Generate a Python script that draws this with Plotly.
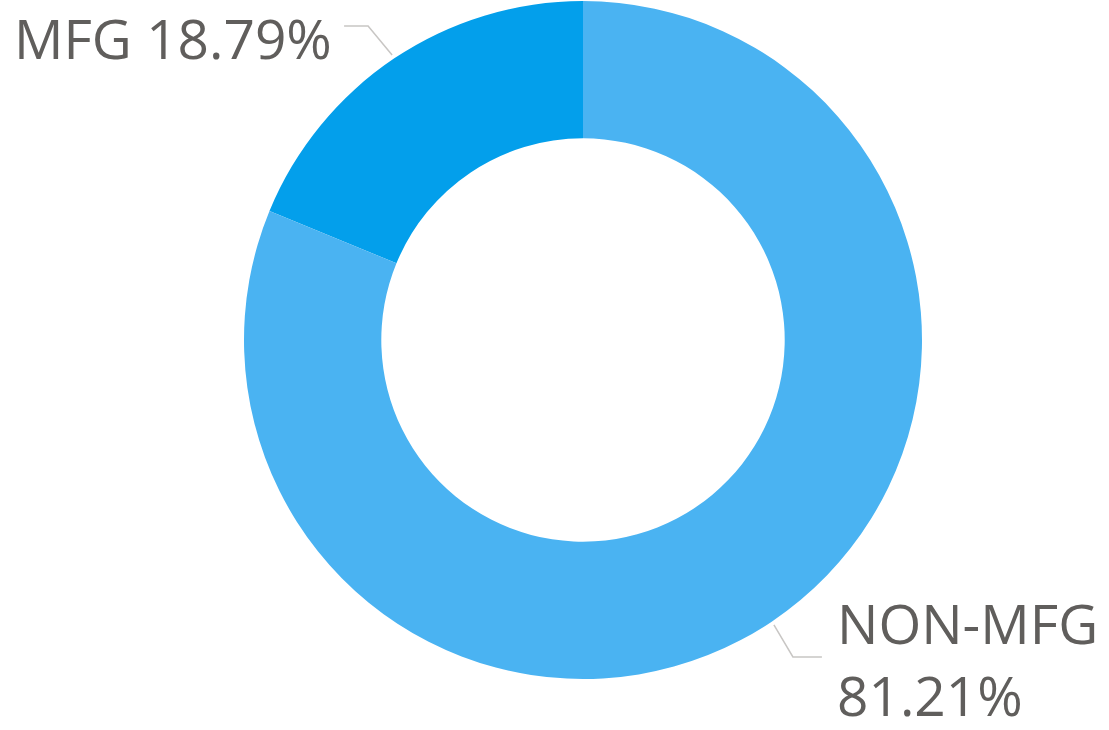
import math
import plotly.graph_objects as go

# ---- data ----
labels = ["MFG", "NON-MFG"]
values = [18.79, 81.21]
colors = ["#039FEB", "#4AB3F2"]

W, H = 1109, 730
CX, CY, R = 583, 340, 339          # pie centre / radius in pixels
HOLE = 0.595
TEXT_COLOR = "#605E5C"
LINE_COLOR = "#C8C6C4"
FONT = "Open Sans, Segoe UI, sans-serif"
FS = 55

total = sum(values)
first_share = values[0] / total * 360  # MFG ends at 12 o'clock, drawn clockwise


def px(x, y):
    return x / W, 1 - y / H


fig = go.Figure(go.Pie(
    labels=labels, values=values,
    marker=dict(colors=colors, line=dict(width=0)),
    hole=HOLE, sort=False, direction="clockwise", rotation=-first_share,
    textinfo="none", hoverinfo="label+percent", showlegend=False,
    domain=dict(x=[(CX - R) / W, (CX + R) / W],
                y=[max(0, 1 - (CY + R) / H), min(1, 1 - (CY - R) / H)]),
))

# leader lines & labels, anchored at slice mid-angles (counterclockwise from 12 o'clock)
cum = 0
shapes, annos = [], []
for i, (lab, v) in enumerate(zip(labels, values)):
    mid = (cum + v / 2) / total * 2 * math.pi
    cum += v
    ax_ = CX - (R + 4) * math.sin(mid)
    ay_ = CY - (R + 4) * math.cos(mid)
    pct = f"{v / total * 100:.2f}%"
    if i == 0:
        p1 = (ax_ - 24, ay_ - 29)
        p2 = (p1[0] - 24, p1[1])
        pts = [(ax_, ay_), p1, p2]
        annos.append(dict(x=px(p2[0] - 10, 0)[0], y=px(0, p2[1] + 11)[1], text=f"{lab} {pct}",
                          xanchor="right", yanchor="middle", align="right"))
    else:
        p1 = (ax_ + 19, ay_ + 32)
        p2 = (p1[0] + 29, p1[1])
        pts = [(ax_, ay_), p1, p2]
        annos.append(dict(x=px(p2[0] + 13, 0)[0], y=px(0, p2[1] + 2)[1], text=f"{lab}<br>{pct}",
                          xanchor="left", yanchor="middle", align="left"))
    path = "M " + " L ".join(f"{px(x, y)[0]},{px(x, y)[1]}" for x, y in pts)
    shapes.append(dict(type="path", path=path, xref="paper", yref="paper",
                       line=dict(color=LINE_COLOR, width=1.5)))

for a in annos:
    a.update(xref="paper", yref="paper", showarrow=False,
             font=dict(family=FONT, size=FS, color=TEXT_COLOR))

fig.update_layout(
    width=W, height=H,
    margin=dict(l=0, r=0, t=0, b=0),
    paper_bgcolor="white", plot_bgcolor="white",
    shapes=shapes, annotations=annos,
)

fig.write_html("out.html", config={"displayModeBar": False},
               post_script="document.body.style.margin='0';")
